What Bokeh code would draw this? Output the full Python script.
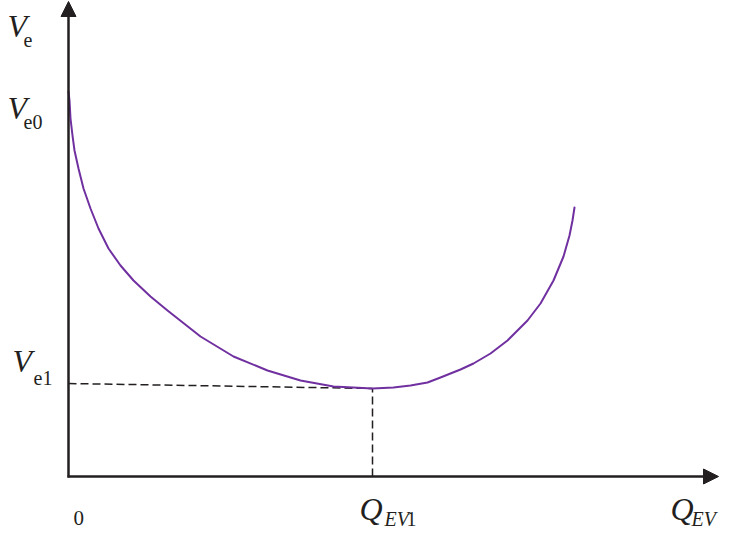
from bokeh.plotting import figure
from bokeh.models import Range1d, ColumnDataSource, Arrow, NormalHead
from bokeh.core.properties import value
from bokeh.embed import file_html
from bokeh.resources import INLINE

# ---- data (schematic units) ----
q_curve = [0, 1, 2, 4, 6, 10, 15, 22, 30, 40, 52, 65, 82, 99, 132, 165, 199,
           232, 265, 304, 325, 342, 359, 372, 392, 405, 422, 439, 459, 472,
           485, 495, 501, 504, 506]
v_curve = [385, 376, 358, 341, 326, 308, 288, 268, 248, 228, 211, 196, 180,
           166, 140, 120, 106, 96, 90, 88, 89, 91, 94, 99, 107, 113, 123, 136,
           156, 173, 196, 220, 241, 256, 269]
q_ev1 = 304      # Q_EV1 (curve minimum)
v_min = 88       # curve value at Q_EV1
v_e1 = 93        # V_e1 level on the axis
q_axis_end = 650
v_axis_end = 475

INK = "#231f20"
PURPLE = "#7030a0"
SERIF = "Liberation Serif"
BASE_FIX = 0.39   # em shift so the glyph baseline lands where asked

p = figure(width=720, height=531, output_backend="svg", toolbar_location=None,
           x_range=Range1d(-68, 652), y_range=Range1d(-55, 476),
           x_axis_location=None, y_axis_location=None,
           min_border=0, min_border_left=0, min_border_right=0,
           min_border_top=0, min_border_bottom=0)
p.outline_line_color = None
p.xgrid.visible = False
p.ygrid.visible = False
p.background_fill_color = "white"

# axes with arrowheads
p.add_layout(Arrow(end=NormalHead(size=15, fill_color=INK, line_color=INK, line_width=1),
                   x_start=0, y_start=-1, x_end=0, y_end=v_axis_end,
                   line_color=INK, line_width=2.5))
p.add_layout(Arrow(end=NormalHead(size=15, fill_color=INK, line_color=INK, line_width=1),
                   x_start=-1, y_start=0, x_end=q_axis_end, y_end=0,
                   line_color=INK, line_width=2.5))

# dashed guide lines
p.line([0, q_ev1], [v_e1, v_min], line_color=INK, line_width=1.5, line_dash="8 4")
p.line([q_ev1, q_ev1], [0, v_min], line_color=INK, line_width=1.5, line_dash="8 4")

# curve
p.line(q_curve, v_curve, line_color=PURPLE, line_width=2, line_join="round",
       line_cap="round")


def txt(x, y, s, size, style="normal"):
    src = ColumnDataSource(dict(x=[x], y=[y + BASE_FIX * size], t=[s]))
    p.text(x="x", y="y", text="t", source=src, text_font=value(SERIF),
           text_font_size=f"{size}px", text_font_style=style, text_color=INK,
           text_align="left", text_baseline="alphabetic")


# y axis name V_e
txt(-61, v_axis_end - 37, "V", 32, "italic")
txt(-45, v_axis_end - 46, "e", 20)
# V_e0
txt(-61, v_curve[0] - 29, "V", 32, "italic")
txt(-45, v_curve[0] - 38, "e0", 20)
# V_e1
txt(-56, v_e1 + 10, "V", 32, "italic")
txt(-35, v_e1 - 2, "e1", 20)
# origin 0
txt(5, -50, "0", 21)
# Q_EV1
txt(q_ev1 - 13, -45, "Q", 32, "italic")
txt(q_ev1 + 12, -50, "EV", 20, "italic")
txt(q_ev1 + 34, -50, "1", 20)
# Q_EV axis name
txt(q_axis_end - 48, -45, "Q", 32, "italic")
txt(q_axis_end - 27, -50, "EV", 20, "italic")

open("out.html", "w").write(file_html(p, INLINE))
